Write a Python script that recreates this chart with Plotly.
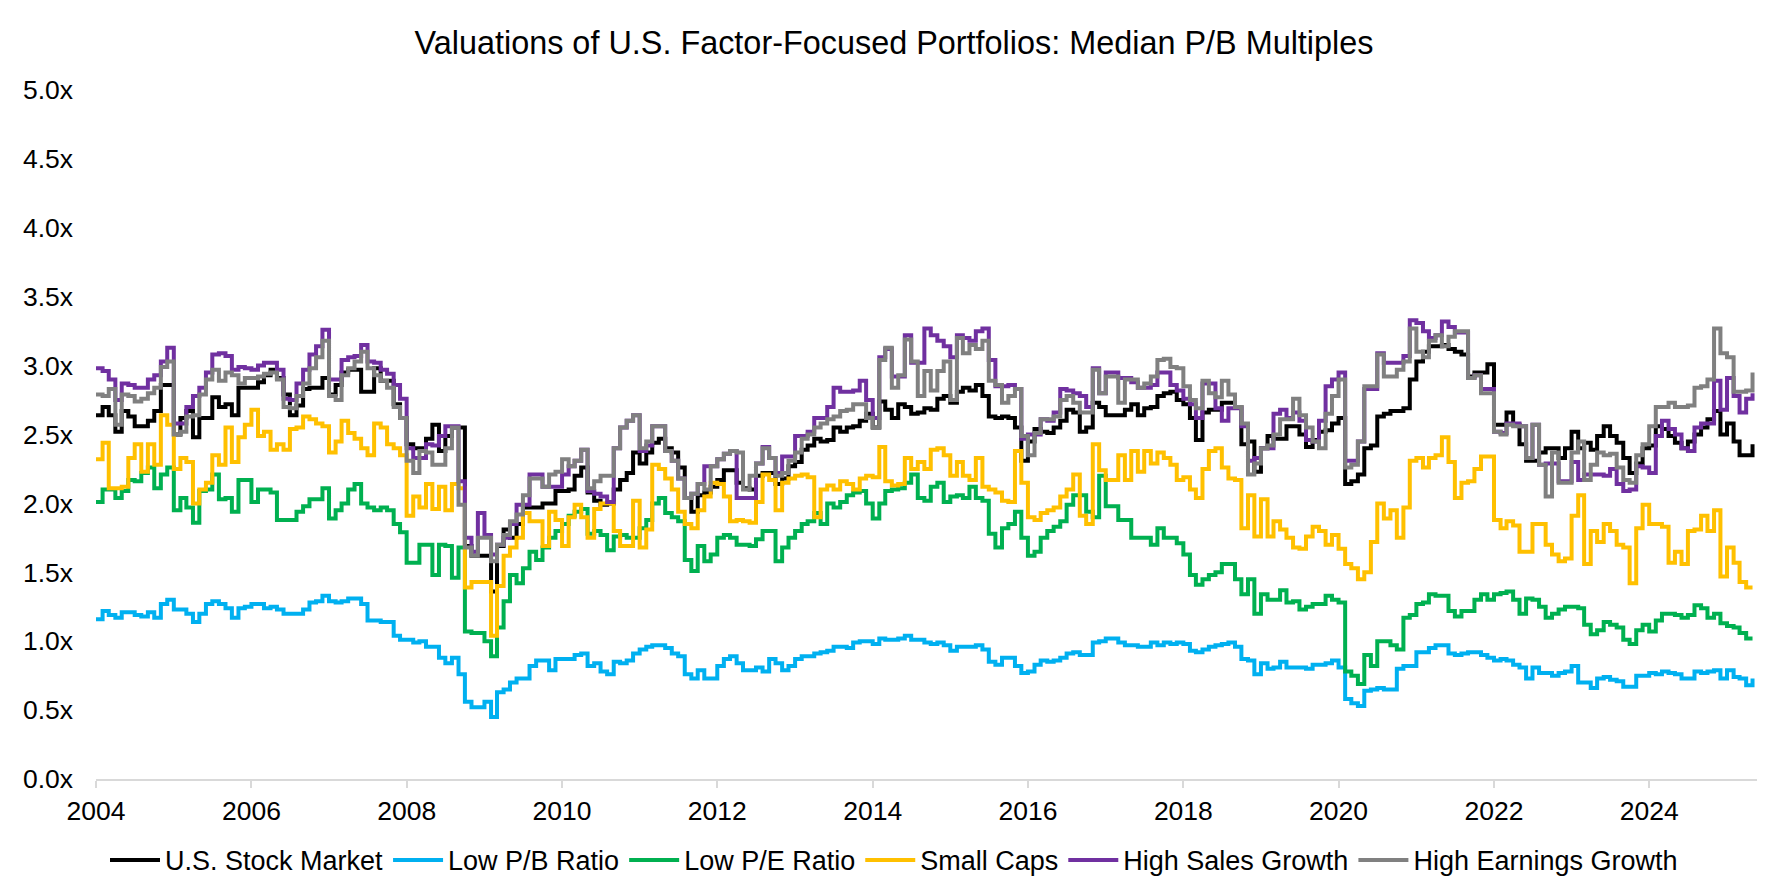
import pandas as pd
import plotly.graph_objects as go

# monthly observations, Jan 2004 .. May 2025 (one row per year)
dates = pd.date_range("2004-01-01", periods=257, freq="MS")

us_market = [
    2.64, 2.70, 2.64, 2.52, 2.67, 2.63, 2.56, 2.56, 2.60, 2.67, 2.86, 2.86,
    2.50, 2.62, 2.67, 2.48, 2.62, 2.62, 2.77, 2.70, 2.72, 2.64, 2.84, 2.84,
    2.84, 2.88, 2.93, 2.97, 2.91, 2.79, 2.64, 2.71, 2.83, 2.84, 2.84, 2.91,
    2.79, 2.86, 2.95, 2.97, 2.97, 2.81, 2.81, 2.98, 2.89, 2.89, 2.72, 2.62,
    2.43, 2.40, 2.40, 2.47, 2.57, 2.38, 2.49, 2.55, 2.55, 1.69, 1.62, 1.62,
    1.62, 1.36, 1.69, 1.81, 1.75, 1.85, 1.97, 1.97, 1.97, 2.00, 2.00, 2.09,
    2.09, 2.10, 2.20, 2.26, 2.08, 2.02, 1.99, 2.00, 2.10, 2.17, 2.22, 2.37,
    2.29, 2.37, 2.44, 2.47, 2.40, 2.37, 2.26, 2.04, 1.94, 2.06, 2.08, 2.12,
    2.17, 2.24, 2.24, 2.15, 2.11, 2.10, 2.20, 2.22, 2.22, 2.14, 2.18, 2.27,
    2.30, 2.39, 2.42, 2.47, 2.45, 2.46, 2.55, 2.52, 2.55, 2.56, 2.60, 2.65,
    2.55, 2.74, 2.68, 2.62, 2.72, 2.70, 2.65, 2.66, 2.69, 2.68, 2.76, 2.78,
    2.73, 2.81, 2.84, 2.82, 2.86, 2.78, 2.63, 2.62, 2.63, 2.62, 2.55, 2.31,
    2.45, 2.54, 2.52, 2.51, 2.55, 2.60, 2.68, 2.66, 2.52, 2.55, 2.73, 2.70,
    2.64, 2.64, 2.64, 2.68, 2.72, 2.64, 2.69, 2.70, 2.78, 2.80, 2.81, 2.75,
    2.72, 2.62, 2.46, 2.66, 2.68, 2.68, 2.73, 2.73, 2.70, 2.43, 2.45, 2.23,
    2.40, 2.49, 2.47, 2.47, 2.56, 2.56, 2.50, 2.41, 2.46, 2.52, 2.53, 2.58,
    2.62, 2.14, 2.16, 2.21, 2.40, 2.42, 2.63, 2.65, 2.67, 2.67, 2.69, 2.90,
    3.03, 3.10, 3.14, 3.14, 3.15, 3.12, 3.10, 3.08, 2.92, 2.95, 2.95, 3.01,
    2.57, 2.57, 2.66, 2.57, 2.43, 2.31, 2.31, 2.37, 2.40, 2.40, 2.33, 2.40,
    2.52, 2.40, 2.44, 2.39, 2.49, 2.56, 2.49, 2.44, 2.33, 2.22, 2.29, 2.40,
    2.42, 2.56, 2.54, 2.49, 2.44, 2.40, 2.45, 2.50, 2.55, 2.61, 2.67, 2.50,
    2.58, 2.45, 2.35, 2.35, 2.43,
]

low_pb = [
    1.16, 1.22, 1.19, 1.17, 1.21, 1.21, 1.19, 1.18, 1.21, 1.17, 1.27, 1.30,
    1.23, 1.23, 1.20, 1.14, 1.20, 1.27, 1.29, 1.27, 1.24, 1.17, 1.24, 1.25,
    1.27, 1.27, 1.24, 1.25, 1.23, 1.20, 1.20, 1.20, 1.23, 1.28, 1.29, 1.33,
    1.29, 1.28, 1.29, 1.31, 1.31, 1.27, 1.15, 1.15, 1.14, 1.14, 1.04, 1.01,
    1.01, 0.99, 1.00, 0.96, 0.96, 0.88, 0.84, 0.88, 0.76, 0.56, 0.52, 0.52,
    0.56, 0.45, 0.63, 0.65, 0.70, 0.73, 0.73, 0.82, 0.86, 0.86, 0.79, 0.87,
    0.87, 0.87, 0.90, 0.91, 0.82, 0.84, 0.78, 0.76, 0.85, 0.84, 0.86, 0.91,
    0.94, 0.96, 0.97, 0.97, 0.95, 0.91, 0.89, 0.76, 0.73, 0.79, 0.73, 0.73,
    0.82, 0.87, 0.89, 0.84, 0.79, 0.79, 0.81, 0.78, 0.87, 0.84, 0.79, 0.82,
    0.87, 0.89, 0.89, 0.91, 0.92, 0.93, 0.96, 0.96, 0.95, 0.99, 1.00, 1.00,
    0.98, 1.02, 1.01, 1.01, 1.02, 1.04, 1.01, 1.01, 0.99, 0.98, 0.99, 0.97,
    0.93, 0.96, 0.96, 0.96, 0.97, 0.94, 0.85, 0.83, 0.88, 0.88, 0.82, 0.77,
    0.78, 0.83, 0.86, 0.85, 0.86, 0.88, 0.91, 0.92, 0.90, 0.90, 0.99, 1.00,
    1.02, 1.02, 0.99, 0.97, 0.97, 0.96, 0.96, 0.99, 0.97, 0.99, 0.98, 0.99,
    0.98, 0.93, 0.92, 0.94, 0.96, 0.97, 0.98, 0.99, 0.96, 0.87, 0.86, 0.76,
    0.84, 0.80, 0.81, 0.85, 0.81, 0.81, 0.81, 0.80, 0.83, 0.83, 0.84, 0.86,
    0.81, 0.58, 0.55, 0.53, 0.64, 0.65, 0.66, 0.65, 0.65, 0.80, 0.82, 0.82,
    0.92, 0.92, 0.95, 0.97, 0.97, 0.91, 0.90, 0.91, 0.92, 0.92, 0.90, 0.88,
    0.86, 0.87, 0.86, 0.83, 0.81, 0.73, 0.81, 0.77, 0.77, 0.75, 0.77, 0.78,
    0.82, 0.70, 0.70, 0.66, 0.73, 0.74, 0.72, 0.71, 0.67, 0.67, 0.75, 0.75,
    0.77, 0.76, 0.78, 0.77, 0.76, 0.73, 0.73, 0.78, 0.77, 0.78, 0.79, 0.73,
    0.79, 0.74, 0.73, 0.68, 0.73,
]

low_pe = [
    2.01, 2.10, 2.10, 2.04, 2.09, 2.17, 2.16, 2.22, 2.26, 2.11, 2.21, 2.26,
    1.95, 2.04, 1.97, 1.86, 2.09, 2.10, 2.21, 2.03, 2.04, 1.94, 2.17, 2.17,
    2.01, 2.10, 2.10, 2.08, 1.88, 1.88, 1.88, 1.94, 1.98, 2.03, 2.03, 2.11,
    1.89, 1.95, 2.00, 2.10, 2.14, 2.00, 1.97, 1.95, 1.97, 1.95, 1.85, 1.79,
    1.57, 1.57, 1.70, 1.70, 1.48, 1.70, 1.69, 1.46, 1.68, 1.07, 1.06, 1.06,
    1.00, 0.89, 1.10, 1.29, 1.48, 1.42, 1.53, 1.65, 1.59, 1.68, 1.75, 1.80,
    1.85, 1.91, 1.94, 1.96, 1.78, 1.80, 1.77, 1.66, 1.76, 1.77, 1.75, 1.75,
    1.82, 1.88, 2.00, 2.04, 1.93, 1.90, 1.87, 1.59, 1.51, 1.69, 1.58, 1.63,
    1.75, 1.77, 1.75, 1.70, 1.70, 1.69, 1.74, 1.80, 1.80, 1.58, 1.68, 1.75,
    1.80, 1.85, 1.87, 1.93, 1.85, 2.00, 1.97, 2.01, 2.06, 2.08, 2.09, 2.00,
    1.89, 2.00, 2.09, 2.10, 2.11, 2.15, 2.21, 2.04, 2.02, 2.12, 2.15, 2.01,
    2.05, 2.06, 2.04, 2.12, 2.04, 2.02, 1.78, 1.68, 1.82, 1.85, 1.94, 1.75,
    1.62, 1.65, 1.75, 1.80, 1.83, 1.87, 1.99, 2.06, 2.06, 1.94, 1.90, 2.20,
    1.98, 1.98, 1.88, 1.88, 1.75, 1.75, 1.75, 1.70, 1.82, 1.75, 1.75, 1.71,
    1.63, 1.48, 1.41, 1.45, 1.48, 1.50, 1.56, 1.56, 1.45, 1.34, 1.45, 1.20,
    1.34, 1.30, 1.30, 1.37, 1.28, 1.29, 1.23, 1.25, 1.27, 1.27, 1.33, 1.30,
    1.28, 0.78, 0.75, 0.69, 0.90, 0.82, 1.00, 1.00, 0.97, 0.94, 1.17, 1.19,
    1.27, 1.28, 1.34, 1.33, 1.33, 1.22, 1.18, 1.22, 1.22, 1.30, 1.34, 1.30,
    1.34, 1.35, 1.36, 1.30, 1.20, 1.31, 1.30, 1.25, 1.17, 1.20, 1.23, 1.25,
    1.25, 1.24, 1.12, 1.05, 1.08, 1.14, 1.12, 1.10, 1.01, 0.98, 1.08, 1.12,
    1.07, 1.15, 1.20, 1.20, 1.19, 1.17, 1.19, 1.26, 1.24, 1.17, 1.20, 1.13,
    1.11, 1.10, 1.06, 1.02, 1.02,
]

small_caps = [
    2.32, 2.44, 2.11, 2.11, 2.12, 2.33, 2.43, 2.23, 2.43, 2.28, 2.64, 2.57,
    2.25, 2.33, 2.30, 2.00, 2.10, 2.15, 2.35, 2.28, 2.55, 2.30, 2.48, 2.57,
    2.68, 2.49, 2.52, 2.39, 2.43, 2.39, 2.54, 2.55, 2.63, 2.61, 2.58, 2.56,
    2.37, 2.45, 2.60, 2.51, 2.47, 2.40, 2.35, 2.58, 2.55, 2.43, 2.40, 2.35,
    1.91, 2.05, 1.97, 2.14, 1.96, 2.12, 1.95, 2.14, 2.11, 1.39, 1.43, 1.43,
    1.43, 1.04, 1.40, 1.62, 1.68, 1.75, 1.93, 1.87, 1.87, 1.69, 1.94, 1.88,
    1.69, 1.90, 1.99, 1.90, 1.75, 1.96, 2.00, 2.00, 1.80, 1.69, 1.69, 2.02,
    1.68, 1.81, 2.28, 2.25, 2.18, 2.10, 1.94, 1.85, 1.82, 1.95, 2.05, 2.15,
    2.14, 2.05, 1.87, 1.88, 1.87, 1.86, 2.01, 2.21, 2.17, 1.95, 2.15, 2.18,
    2.20, 2.21, 2.19, 1.90, 2.10, 2.13, 2.10, 2.16, 2.14, 2.10, 2.18, 2.20,
    2.19, 2.41, 2.16, 2.13, 2.14, 2.33, 2.25, 2.30, 2.25, 2.39, 2.40, 2.35,
    2.20, 2.30, 2.20, 2.17, 2.33, 2.12, 2.10, 2.08, 2.02, 2.01, 2.38, 2.15,
    1.90, 1.88, 1.93, 1.95, 1.97, 2.05, 2.10, 2.21, 1.91, 1.85, 2.43, 2.24,
    2.17, 2.17, 2.35, 2.17, 2.38, 2.23, 2.38, 2.29, 2.37, 2.33, 2.28, 2.17,
    2.19, 2.10, 2.04, 2.25, 2.38, 2.40, 2.26, 2.18, 2.17, 1.82, 2.06, 1.76,
    2.03, 1.76, 1.87, 1.81, 1.75, 1.68, 1.67, 1.76, 1.83, 1.80, 1.70, 1.77,
    1.67, 1.56, 1.53, 1.45, 1.50, 1.72, 2.00, 1.89, 1.95, 1.75, 1.97, 2.31,
    2.33, 2.26, 2.33, 2.35, 2.48, 2.30, 2.04, 2.15, 2.16, 2.25, 2.34, 2.34,
    1.88, 1.82, 1.87, 1.84, 1.65, 1.65, 1.85, 1.85, 1.70, 1.63, 1.58, 1.60,
    1.91, 2.06, 1.56, 1.80, 1.72, 1.85, 1.80, 1.70, 1.68, 1.42, 1.82, 1.99,
    1.85, 1.85, 1.83, 1.57, 1.65, 1.56, 1.80, 1.81, 1.91, 1.80, 1.95, 1.47,
    1.68, 1.57, 1.43, 1.39, 1.39,
]

high_sales = [
    2.98, 2.96, 2.90, 2.75, 2.87, 2.86, 2.84, 2.84, 2.90, 2.93, 3.03, 3.13,
    2.58, 2.58, 2.70, 2.78, 2.84, 2.95, 3.08, 3.09, 3.07, 2.97, 2.99, 2.98,
    2.97, 3.00, 3.02, 3.02, 2.97, 2.76, 2.75, 2.87, 2.97, 3.08, 3.14, 3.26,
    2.90, 2.90, 3.04, 3.06, 3.07, 3.15, 3.03, 3.02, 2.97, 2.94, 2.86, 2.76,
    2.40, 2.33, 2.33, 2.43, 2.42, 2.49, 2.56, 2.56, 2.16, 1.75, 1.65, 1.93,
    1.77, 1.63, 1.70, 1.75, 1.85, 1.99, 1.99, 2.21, 2.21, 2.12, 2.12, 2.12,
    2.21, 2.27, 2.31, 2.39, 2.09, 2.07, 2.05, 2.01, 2.40, 2.55, 2.60, 2.64,
    2.38, 2.42, 2.56, 2.56, 2.38, 2.31, 2.18, 2.04, 2.07, 2.14, 2.27, 2.27,
    2.32, 2.36, 2.38, 2.04, 2.04, 2.04, 2.29, 2.41, 2.33, 2.22, 2.34, 2.34,
    2.49, 2.49, 2.52, 2.62, 2.62, 2.70, 2.84, 2.81, 2.81, 2.82, 2.89, 2.75,
    2.62, 3.06, 3.12, 2.92, 2.92, 3.22, 3.02, 3.02, 3.27, 3.22, 3.18, 3.14,
    3.06, 3.22, 3.20, 3.18, 3.25, 3.27, 3.04, 2.85, 2.85, 2.86, 2.83, 2.47,
    2.50, 2.50, 2.61, 2.60, 2.66, 2.83, 2.82, 2.80, 2.78, 2.70, 2.98, 2.80,
    2.95, 2.95, 2.91, 2.91, 2.88, 2.84, 2.84, 2.86, 2.95, 2.95, 2.86, 2.82,
    2.76, 2.72, 2.62, 2.87, 2.87, 2.69, 2.60, 2.69, 2.69, 2.56, 2.31, 2.33,
    2.40, 2.40, 2.65, 2.68, 2.62, 2.66, 2.60, 2.46, 2.45, 2.60, 2.85, 2.90,
    2.95, 2.31, 2.31, 2.45, 2.83, 2.83, 3.09, 3.02, 3.02, 3.02, 3.07, 3.33,
    3.31, 3.25, 3.20, 3.22, 3.32, 3.28, 3.24, 3.24, 2.91, 2.93, 2.83, 2.83,
    2.52, 2.51, 2.58, 2.58, 2.56, 2.33, 2.57, 2.28, 2.29, 2.29, 2.16, 2.16,
    2.30, 2.17, 2.21, 2.21, 2.21, 2.20, 2.25, 2.14, 2.09, 2.10, 2.27, 2.26,
    2.22, 2.49, 2.60, 2.54, 2.50, 2.40, 2.38, 2.55, 2.58, 2.58, 2.89, 2.68,
    2.91, 2.78, 2.66, 2.76, 2.80,
]

high_earnings = [
    2.79, 2.78, 2.83, 2.57, 2.79, 2.78, 2.74, 2.76, 2.80, 2.84, 2.99, 3.03,
    2.50, 2.52, 2.63, 2.64, 2.79, 2.90, 2.97, 2.89, 2.95, 2.93, 2.87, 2.91,
    2.91, 2.92, 2.94, 2.95, 2.90, 2.70, 2.69, 2.78, 2.87, 2.98, 3.06, 3.18,
    2.78, 2.75, 2.93, 2.98, 3.03, 3.10, 2.98, 2.93, 2.89, 2.84, 2.70, 2.62,
    2.31, 2.22, 2.38, 2.37, 2.28, 2.28, 2.40, 2.55, 1.99, 1.68, 1.62, 1.75,
    1.75, 1.58, 1.70, 1.77, 1.87, 1.92, 2.06, 2.18, 2.18, 2.12, 2.21, 2.23,
    2.32, 2.27, 2.31, 2.39, 2.11, 2.16, 2.20, 2.20, 2.40, 2.55, 2.60, 2.64,
    2.40, 2.45, 2.56, 2.56, 2.38, 2.31, 2.18, 2.04, 2.07, 2.14, 2.10, 2.27,
    2.32, 2.36, 2.38, 2.37, 2.10, 2.20, 2.29, 2.40, 2.33, 2.20, 2.22, 2.31,
    2.37, 2.47, 2.50, 2.55, 2.58, 2.61, 2.63, 2.67, 2.68, 2.72, 2.72, 2.62,
    2.55, 3.04, 3.13, 2.84, 2.93, 3.19, 3.03, 2.78, 2.96, 2.82, 2.96, 3.03,
    2.75, 3.20, 3.09, 3.15, 3.12, 3.18, 2.89, 2.86, 2.73, 2.78, 2.83, 2.49,
    2.35, 2.51, 2.61, 2.61, 2.63, 2.75, 2.78, 2.73, 2.66, 2.66, 2.97, 2.80,
    2.92, 2.92, 2.73, 2.90, 2.90, 2.84, 2.87, 2.92, 3.04, 3.05, 2.99, 2.98,
    2.85, 2.75, 2.69, 2.89, 2.80, 2.77, 2.89, 2.79, 2.70, 2.58, 2.21, 2.29,
    2.40, 2.42, 2.50, 2.61, 2.61, 2.76, 2.64, 2.55, 2.45, 2.40, 2.65, 2.78,
    2.90, 2.26, 2.28, 2.45, 2.85, 2.85, 3.08, 2.92, 2.92, 2.97, 3.03, 3.27,
    3.10, 3.06, 3.18, 3.22, 3.14, 3.21, 3.25, 3.25, 2.91, 2.93, 2.80, 2.80,
    2.52, 2.50, 2.57, 2.56, 2.56, 2.33, 2.57, 2.28, 2.05, 2.37, 2.15, 2.15,
    2.37, 2.45, 2.17, 2.28, 2.37, 2.35, 2.36, 2.26, 2.17, 2.15, 2.35, 2.43,
    2.56, 2.70, 2.70, 2.73, 2.70, 2.70, 2.71, 2.84, 2.85, 2.90, 3.27, 3.09,
    3.06, 2.81, 2.81, 2.82, 2.95,
]

series = [
    ("U.S. Stock Market", us_market, "#000000"),
    ("Low P/B Ratio", low_pb, "#00B0F0"),
    ("Low P/E Ratio", low_pe, "#00B050"),
    ("Small Caps", small_caps, "#FFC000"),
    ("High Sales Growth", high_sales, "#7030A0"),
    ("High Earnings Growth", high_earnings, "#808080"),
]

fonte = "Liberation Sans, Arial, sans-serif"
cor_eixo = "#D9D9D9"

fig = go.Figure()

for nome, valores, cor in series:
    fig.add_trace(go.Scatter(
        x=dates,
        y=valores,
        mode="lines",
        line=dict(color=cor, width=4, shape="hv"),
        name=nome,
    ))

fig.update_layout(
    width=1772,
    height=886,
    plot_bgcolor="white",
    paper_bgcolor="white",
    font=dict(family=fonte, size=26.5, color="#000000"),
    title=dict(
        text="Valuations of U.S. Factor-Focused Portfolios: Median P/B Multiples",
        x=0.5,
        xanchor="center",
        y=0.961,
        yanchor="middle",
        font=dict(size=32.4, color="#000000"),
    ),
    xaxis=dict(
        type="date",
        range=["2004-01-01", "2025-05-22"],
        tick0="2004-01-01",
        dtick="M24",
        tickformat="%Y",
        showgrid=False,
        zeroline=False,
        showline=True,
        linecolor=cor_eixo,
        linewidth=2,
        ticks="outside",
        ticklen=7,
        tickwidth=2,
        tickcolor=cor_eixo,
        ticklabelstandoff=0,
        automargin=False,
    ),
    yaxis=dict(
        range=[0, 5],
        dtick=0.5,
        tickformat=".1f",
        ticksuffix="x",
        showgrid=False,
        zeroline=False,
        showline=False,
        ticks="",
        ticklabelstandoff=22,
        automargin=False,
    ),
    legend=dict(
        orientation="h",
        xref="container",
        x=0.5,
        xanchor="center",
        yref="container",
        y=0.038,
        yanchor="middle",
        font=dict(size=27),
        itemwidth=50,
    ),
    margin=dict(l=88, r=23, t=82, b=115, autoexpand=False),
    showlegend=True,
)

fig.write_html("out.html")
